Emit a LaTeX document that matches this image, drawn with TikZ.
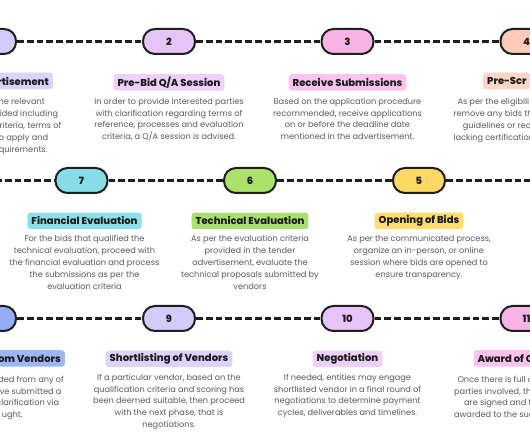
\documentclass[tikz,border=0pt]{standalone}
\usepackage{fontspec}
\setmainfont{Poppins}
\newfontfamily\heavyfont{Poppins ExtraBold}
\usetikzlibrary{positioning}

% step colours (pill / title box)
\definecolor{ink}{HTML}{1E1E1E}
\definecolor{bodygray}{HTML}{5A5A5A}
\definecolor{pillA}{HTML}{D3CBFA}\definecolor{boxA}{HTML}{DCD2FC}
\definecolor{pillB}{HTML}{E6C4FA}\definecolor{boxB}{HTML}{EDD0FB}
\definecolor{pillC}{HTML}{F8B4E6}\definecolor{boxC}{HTML}{FBC3ED}
\definecolor{pillD}{HTML}{FFCBB8}\definecolor{boxD}{HTML}{FDD6C8}
\definecolor{pillE}{HTML}{FDD865}\definecolor{boxE}{HTML}{FEDD6E}
\definecolor{pillF}{HTML}{A9E16A}\definecolor{boxF}{HTML}{A9E06F}
\definecolor{pillG}{HTML}{86DDE8}\definecolor{boxG}{HTML}{8DE0EA}
\definecolor{pillH}{HTML}{94AEF5}\definecolor{boxH}{HTML}{9EB6F6}

\tikzset{
  pill/.style={draw=ink, line width=2pt, rounded corners=12pt,
    minimum width=52pt, minimum height=25pt, inner sep=0pt, text=ink,
    font=\heavyfont\fontsize{10}{11}\selectfont},
  titlebox/.style={rounded corners=3pt, minimum height=16.5pt, inner xsep=4pt,
    inner ysep=0pt, text=ink, font=\heavyfont\fontsize{10}{11}\selectfont},
  body/.style={align=center, inner sep=0pt, text=bodygray,
    font=\fontsize{8.2}{11.8}\selectfont},
  bodyline/.style={inner sep=0pt, text=bodygray, font=\fontsize{8.2}{11.8}\selectfont},
  dashline/.style={draw=ink, line width=2.2pt, dash pattern=on 6.8pt off 3pt},
}

\begin{document}
\begin{tikzpicture}[x=1pt, y=-1pt]
    \useasboundingbox[fill=white] (0,0) rectangle (530,443);
    \clip (0,0) rectangle (530,443);

    % Row 1: steps 1 to 4
    \node[pill, fill=pillA] (p1) at (-10,41.5) {};
    \node[pill, fill=pillB] (p2) at (169,41.5) {2};
    \node[pill, fill=pillC] (p3) at (347.5,41.5) {3};
    \node[pill, fill=pillD] (p4) at (526.5,41.5) {4};

    % Row 2: steps 7, 6, 5 (right to left)
    \coordinate (r2left) at (-5,180.5);
    \node[pill, fill=pillG] (p7) at (81.5,180.5) {7};
    \node[pill, fill=pillF] (p6) at (250,180.5) {6};
    \node[pill, fill=pillE] (p5) at (419,180.5) {5};
    \coordinate (r2right) at (540,180.5);

    % Row 3: steps 8 to 11
    \node[pill, fill=pillH] (p8) at (-10,318.5) {};
    \node[pill, fill=pillA] (p9) at (169,318.5) {9};
    \node[pill, fill=pillB] (p10) at (347.5,318.5) {10};
    \node[pill, fill=pillC] (p11) at (526.5,318.5) {11};

    % Dashed connectors
    \draw[dashline] (p1) -- (p2);
    \draw[dashline] (p2) -- (p3);
    \draw[dashline] (p3) -- (p4);
    \draw[dashline] (r2left) -- (p7);
    \draw[dashline] (p7) -- (p6);
    \draw[dashline] (p6) -- (p5);
    \draw[dashline] (p5) -- (r2right);
    \draw[dashline] (p8) -- (p9);
    \draw[dashline] (p9) -- (p10);
    \draw[dashline] (p10) -- (p11);

    % Titles
    \node[titlebox, fill=boxA, anchor=east] (t1) at (53,81) {rtisement};
    \node[titlebox, fill=boxB, below=19pt of p2] (t2) {Pre-Bid Q/A Session};
    \node[titlebox, fill=boxC, below=19pt of p3] (t3) {Receive Submissions};
    \node[titlebox, fill=boxD, anchor=west] (t4) at (483,81) {Pre-Scr};
    \node[titlebox, fill=boxG, below=18.5pt of p7, xshift=3pt] (t7) {Financial Evaluation};
    \node[titlebox, fill=boxF, below=18.5pt of p6] (t6) {Technical Evaluation};
    \node[titlebox, fill=boxE, below=18.5pt of p5] (t5) {Opening of Bids};
    \node[titlebox, fill=boxH, anchor=east] (t8) at (65,358.5) {om Vendors};
    \node[titlebox, fill=boxA, below=18.5pt of p9] (t9) {Shortlisting of Vendors};
    \node[titlebox, fill=boxB, below=18.5pt of p10] (t10) {Negotiation};
    \node[titlebox, fill=boxC, anchor=west] (t11) at (473.3,358.5) {Award of C};

    % Descriptions
    \node[body, below=7pt of t2] (d2) {In order to provide interested parties\\
      with clarification regarding terms of\\reference, processes and evaluation\\
      criteria, a Q/A session is advised.};
    \node[body, below=7pt of t3] (d3) {Based on the application procedure\\
      recommended, receive applications\\on or before the deadline date\\
      mentioned in the advertisement.};
    \node[body, below=6pt of t7] (d7) {For the bids that qualified the\\
      technical evaluation, proceed with\\the financial evaluation and process\\
      the submissions as per the\\evaluation criteria};
    \node[body, below=6pt of t6] (d6) {As per the evaluation criteria\\
      provided in the tender\\advertisement, evaluate the\\
      technical proposals submitted by\\vendors};
    \node[body, below=6pt of t5] (d5) {As per the communicated process,\\
      organize an in-person, or online\\session where bids are opened to\\
      ensure transparency.};
    \node[body, below=6.5pt of t9] (d9) {If a particular vendor, based on the\\
      qualification criteria and scoring has\\been deemed suitable, then proceed\\
      with the next phase, that is\\negotiations.};
    \node[body, below=6.5pt of t10] (d10) {If needed, entities may engage\\
      shortlisted vendor in a final round of\\negotiations to determine payment\\
      cycles, deliverables and timelines.};

    % Cut-off descriptions at the edges
    \foreach \xe/\yb/\txt in {45/104.5/he relevant, 58.3/116.5/ided including,
        61.5/128.5/{criteria, terms of}, 48.3/140.5/o apply and, 47.7/152.5/quirements.,
        64/382.5/ded from any of, 61.7/394.2/ve submitted a,
        59.3/405.8/clarification via, 22.7/417.5/ught.}
      \node[bodyline, anchor=base east] at (\xe,\yb) {\txt};
    \foreach \xs/\yb/\txt in {457.3/104.5/As per the eligibili, 453.3/116.5/remove any bids th,
        462.7/128.5/guidelines or req, 453.3/140.5/lacking certification,
        457.3/382.5/Once there is full c, 454/394.2/{parties involved, th},
        464/405.8/are signed and t, 454/417.5/awarded to the suc}
      \node[bodyline, anchor=base west] at (\xs,\yb) {\txt};
\end{tikzpicture}
\end{document}
